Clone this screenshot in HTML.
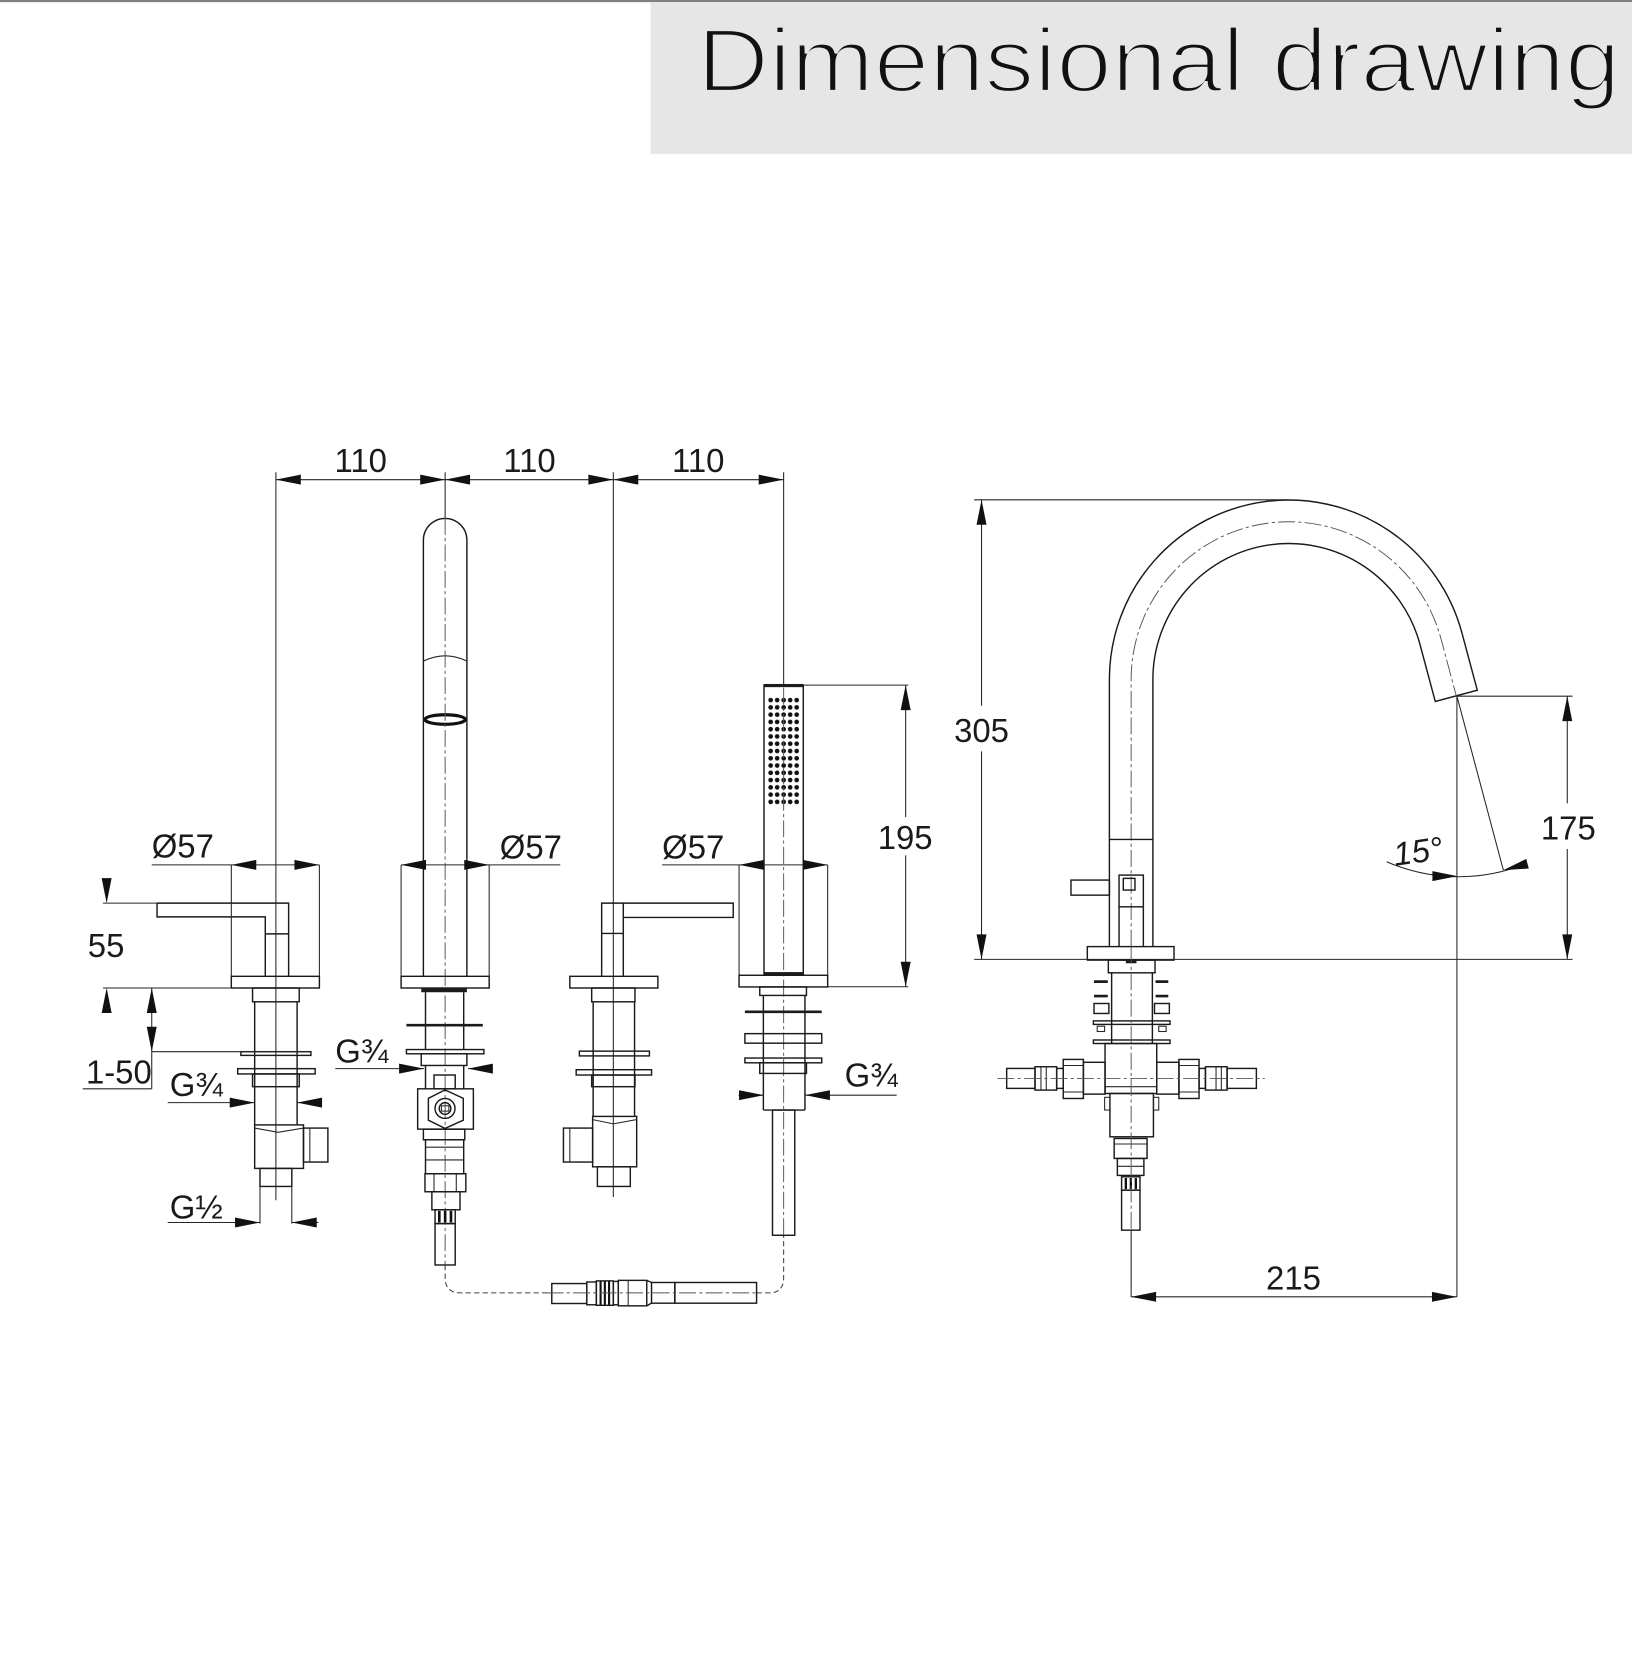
<!DOCTYPE html>
<html><head><meta charset="utf-8"><style>
html,body{margin:0;padding:0;background:#fff;}
svg{display:block;}
.o{fill:none;stroke:#1a1a1a;stroke-width:1.35;}
.t{fill:none;stroke:#262626;stroke-width:1;}
.c{fill:none;stroke:#555;stroke-width:0.9;stroke-dasharray:16 3 3 3;}
.h{fill:none;stroke:#444;stroke-width:1;stroke-dasharray:5 3;}
.f{fill:#1c1c1c;stroke:none;}
text{font-family:"Liberation Sans",Arial,sans-serif;fill:#1a1a1a;}
.l{font-size:31px;}
</style></head><body>
<svg width="1632" height="1664" viewBox="0 0 1538 1568" preserveAspectRatio="none" xmlns="http://www.w3.org/2000/svg">
<defs>
<path id="a" d="M0,0 L-23.5,-4.7 L-23.5,4.7Z" fill="#111"/>
<pattern id="dots" x="723.2" y="656.3" width="6.13" height="6.85" patternUnits="userSpaceOnUse"><circle cx="3.06" cy="3.42" r="2.2" fill="#111"/></pattern>
</defs>
<rect x="0" y="0" width="1538" height="1568" fill="#fff"/>
<!-- header -->
<rect x="0" y="0" width="1538" height="2" fill="#808080"/>
<rect x="613" y="2" width="925" height="143" fill="#e6e6e6"/>
<text x="657" y="86" font-size="85" textLength="870" lengthAdjust="spacingAndGlyphs" style="fill:#111;stroke:#e6e6e6;stroke-width:3">Dimensional drawing</text>

<!-- top 110 dims -->
<path class="t" d="M260,452 H738 M260,445 V1131 M419.5,445 V488 M578,445 V1128 M738.5,445 V645.6"/>
<use href="#a" transform="translate(260,452) rotate(180)"/>
<use href="#a" transform="translate(419.5,452)"/>
<use href="#a" transform="translate(419.5,452) rotate(180)"/>
<use href="#a" transform="translate(578,452)"/>
<use href="#a" transform="translate(578,452) rotate(180)"/>
<use href="#a" transform="translate(738.5,452)"/>
<text class="l" x="340" y="445" text-anchor="middle">110</text>
<text class="l" x="499" y="445" text-anchor="middle">110</text>
<text class="l" x="658" y="445" text-anchor="middle">110</text>

<!-- LEFT VALVE -->
<path class="o" d="M148,851 H272 V920 M148,851 V864 H250 V920 M250,880 H272"/>
<path class="t" d="M218,815 V920 M301,815 V920 M143,815 H301"/>
<use href="#a" transform="translate(218,815) rotate(180)"/>
<use href="#a" transform="translate(301,815)"/>
<text class="l" x="143" y="808">Ø57</text>
<rect class="o" x="218" y="920" width="83" height="11"/>
<rect class="o" x="238" y="931" width="44" height="13"/>
<path class="o" d="M240,944 V1060 M280,944 V1060"/>
<rect class="o" x="227" y="991" width="66" height="3.5"/>
<rect class="o" x="224" y="1007" width="73" height="5"/>
<rect class="o" x="238" y="1012" width="44" height="12"/>
<rect class="o" x="240" y="1060" width="46" height="41"/>
<path class="t" d="M240,1063 L262,1067 L286,1063"/>
<rect class="o" x="286" y="1063" width="23" height="32"/>
<path class="t" d="M292,1063 V1095"/>
<rect class="o" x="245" y="1101" width="30" height="17"/>
<path class="t" d="M245,1118 V1153 M275,1118 V1153"/>
<!-- 55 -->
<path class="t" d="M97,851 H148 M97,931 H218"/>
<use href="#a" transform="translate(100.5,851) rotate(90)"/>
<use href="#a" transform="translate(100.5,931) rotate(-90)"/>
<text class="l" x="100" y="902" text-anchor="middle">55</text>
<!-- 1-50 -->
<path class="t" d="M143,931 V1026 M143,991 H293 M78,1026 H143"/>
<use href="#a" transform="translate(143,931) rotate(-90)"/>
<use href="#a" transform="translate(143,991) rotate(90)"/>
<text class="l" x="81" y="1021">1-50</text>
<!-- G3/4 left -->
<path class="t" d="M158,1039 H240 M280,1039 H303"/>
<use href="#a" transform="translate(240,1039)"/>
<use href="#a" transform="translate(280,1039) rotate(180)"/>
<text class="l" x="160" y="1033">G¾</text>
<!-- G1/2 -->
<path class="t" d="M158,1152 H245 M275,1152 H300"/>
<use href="#a" transform="translate(245,1152)"/>
<use href="#a" transform="translate(275,1152) rotate(180)"/>
<text class="l" x="160" y="1148">G½</text>

<!-- SPOUT -->
<path class="o" d="M399,920 V509 A20.5,20.5 0 0 1 440,509 V920"/>
<path class="t" d="M399,623 Q419.5,613 440,623"/>
<ellipse cx="419.5" cy="678" rx="19" ry="4.5" fill="none" stroke="#111" stroke-width="3"/>
<path class="c" d="M419.5,488 V1192"/>
<path class="t" d="M378,815 V920 M461,815 V920 M378,815 H528"/>
<use href="#a" transform="translate(378,815) rotate(180)"/>
<use href="#a" transform="translate(461,815)"/>
<text class="l" x="471" y="809">Ø57</text>
<rect class="o" x="378" y="920" width="83" height="11"/>
<rect class="f" x="397" y="931" width="43" height="4"/>
<path class="o" d="M401,935 V989 M437,935 V989"/>
<path d="M383,966 H455" stroke="#1c1c1c" stroke-width="2.5"/>
<rect class="o" x="383" y="989" width="73" height="4"/>
<rect class="o" x="397" y="993" width="43" height="11"/>
<path class="t" d="M316,1007 H399.6 M441,1007 H463"/>
<use href="#a" transform="translate(399.6,1007)"/>
<use href="#a" transform="translate(441,1007) rotate(180)"/>
<text class="l" x="316" y="1001">G¾</text>
<path class="o" d="M401,1004 V1026 M437,1004 V1026"/>
<rect class="o" x="409" y="1013" width="20" height="13"/>
<rect class="o" x="393.6" y="1026" width="52.5" height="38"/>
<polygon class="o" points="419.4,1027 403.7,1035 403.7,1055.5 419.4,1063.3 436.6,1055.5 436.6,1035"/>
<circle class="o" cx="419.4" cy="1044.5" r="9.4"/>
<circle class="o" cx="419.4" cy="1044.5" r="5.5"/>
<rect class="t" x="416" y="1042" width="7" height="5"/>
<rect class="o" x="399" y="1064" width="39" height="10"/>
<rect class="o" x="401" y="1074" width="36" height="32"/>
<path class="t" d="M401,1081 H437 M401,1093 H437"/>
<rect class="o" x="400.5" y="1106" width="38.5" height="17"/>
<path class="t" d="M409,1106 V1123 M430,1106 V1123"/>
<rect class="o" x="407" y="1123" width="26.5" height="17"/>
<rect class="o" x="410" y="1140" width="19" height="13"/>
<path d="M414,1141 V1152 M419.5,1141 V1152 M425,1141 V1152" stroke="#111" stroke-width="2.5"/>
<rect class="o" x="410" y="1153" width="19" height="39"/>
<!-- hose -->
<path class="h" d="M419.5,1192 V1204 Q419.5,1218.3 434,1218.3 H520 M713,1218.3 H725 Q738.5,1218.3 738.5,1204 V1164"/>
<rect class="o" x="520" y="1209.5" width="33" height="18.8"/>
<rect class="o" x="553" y="1208" width="9" height="21.5"/>
<rect class="o" x="562" y="1207" width="16" height="23"/>
<path d="M566,1207.5 V1229.5 M570,1207.5 V1229.5 M574,1207.5 V1229.5" stroke="#111" stroke-width="2"/>
<rect class="o" x="578" y="1207.5" width="4.7" height="22"/>
<rect class="o" x="582.7" y="1206.5" width="26.8" height="24"/>
<path class="t" d="M592,1206.5 V1230.5"/>
<path class="o" d="M609.5,1206.5 L614,1208.5 M609.5,1230.5 L614,1228"/>
<rect class="o" x="614" y="1208.5" width="22" height="19.5"/>
<rect class="o" x="636" y="1208.5" width="77" height="19.5"/>
<path class="c" d="M515,1218.3 H713"/>

<!-- CENTER LEVER VALVE -->
<path class="o" d="M567,920 V851 H691 V864.5 H587.4 V920 M567,879.6 H587.4 M587.4,851 V864.5"/>
<rect class="o" x="537" y="920" width="83" height="11"/>
<rect class="o" x="557.6" y="931" width="40.8" height="13"/>
<path class="o" d="M559,944 V1052 M598,944 V1052"/>
<rect class="o" x="546" y="990.5" width="66" height="4.5"/>
<rect class="o" x="543" y="1008" width="71" height="5"/>
<rect class="o" x="557.6" y="1013" width="40.8" height="11"/>
<rect class="o" x="558.5" y="1052" width="41.5" height="47.5"/>
<path class="t" d="M558.5,1055 L578,1059 L600,1055"/>
<rect class="o" x="531" y="1063" width="27.5" height="32"/>
<path class="t" d="M537,1063 V1095"/>
<rect class="o" x="563" y="1099.5" width="31" height="18.5"/>

<!-- HAND SHOWER -->
<rect class="o" x="720" y="645.6" width="37" height="273.3"/>
<rect class="f" x="720" y="644.5" width="37" height="3"/>
<rect x="723.2" y="656.3" width="30.65" height="102.75" fill="url(#dots)"/>
<path class="c" d="M738.5,648 V1164"/>
<path class="t" d="M696.5,815 V919 M780,815 V919 M624,815 H780"/>
<use href="#a" transform="translate(696.5,815) rotate(180)"/>
<use href="#a" transform="translate(780,815)"/>
<text class="l" x="624" y="809">Ø57</text>
<rect class="f" x="720" y="916" width="37" height="3"/>
<rect class="o" x="696.5" y="919" width="83.5" height="11"/>
<rect class="o" x="716" y="930" width="44" height="8"/>
<path class="o" d="M719.4,938 V1046 M758.6,938 V1046 M719.4,1046 H758.6"/>
<path d="M702,953.4 H774.4" stroke="#1c1c1c" stroke-width="2.5"/>
<rect class="o" x="702" y="974" width="72.4" height="9"/>
<rect class="o" x="702" y="997" width="72.4" height="4.5"/>
<rect class="o" x="716" y="1001.5" width="44" height="10"/>
<rect class="o" x="728" y="1046" width="21" height="118"/>
<path class="t" d="M696,1032 H720 M758.6,1032 H845"/>
<use href="#a" transform="translate(720,1032)"/>
<use href="#a" transform="translate(758.6,1032) rotate(180)"/>
<text class="l" x="796" y="1024">G¾</text>
<!-- 195 -->
<path class="t" d="M757,645.6 H856 M780,929.8 H856 M853.5,645.6 V770 M853.5,806 V929.8"/>
<use href="#a" transform="translate(853.5,645.6) rotate(-90)"/>
<use href="#a" transform="translate(853.5,929.8) rotate(90)"/>
<text class="l" x="853" y="800" text-anchor="middle">195</text>

<!-- GOOSENECK -->
<path class="o" d="M1045.5,892 V640 A169,169 0 0 1 1377.7,596.3 L1392.2,650.4 L1352.6,661 L1338.1,606.9 A128,128 0 0 0 1086.5,640 V892"/>
<path class="c" d="M1066,892 V640 A148.5,148.5 0 0 1 1357.9,601.6 L1372.4,655.7"/>
<path class="o" d="M1045.5,791 H1086.5"/>
<rect class="o" x="1054.6" y="824.6" width="22.9" height="29.9" fill="#fff"/>
<rect class="o" x="1058.6" y="827.7" width="11" height="11"/>
<path class="o" d="M1054.6,854.5 V892 M1077.5,854.5 V892"/>
<rect class="o" x="1009.3" y="829.3" width="36.2" height="14.2"/>
<rect class="o" x="1024.7" y="892" width="81.7" height="12.7"/>
<!-- 305 -->
<path class="t" d="M918,471 H1214 M918,904 H1482 M925,471 V665 M925,708 V904"/>
<use href="#a" transform="translate(925,471) rotate(-90)"/>
<use href="#a" transform="translate(925,904) rotate(90)"/>
<text class="l" x="925" y="699" text-anchor="middle">305</text>
<!-- 175 / 15 deg -->
<path class="t" d="M1373,656 H1482 M1477,656 V757 M1477,800 V904 M1373,656 V1222 M1373,656 L1416.8,820"/>
<use href="#a" transform="translate(1477,656) rotate(-90)"/>
<use href="#a" transform="translate(1477,904) rotate(90)"/>
<text class="l" x="1478" y="791" text-anchor="middle">175</text>
<path class="t" d="M1306.8,812 A169.6,169.6 0 0 0 1438.8,813.6"/>
<use href="#a" transform="translate(1373.4,825.6)"/>
<use href="#a" transform="translate(1416.8,819.9) rotate(165.2)"/>
<text class="l" x="1313" y="813" font-style="italic" transform="rotate(-8 1335 803)">15°</text>
<!-- lower assembly -->
<rect class="o" x="1044.5" y="904.7" width="44" height="12"/>
<rect class="f" x="1061" y="904.7" width="10" height="3"/>
<path class="o" d="M1047.6,916.6 V983 M1086,916.6 V983"/>
<path d="M1031,925 H1044 M1089,925 H1101 M1031,938.6 H1044 M1089,938.6 H1101" stroke="#1c1c1c" stroke-width="2.5"/>
<rect class="o" x="1031" y="945.6" width="14" height="9.4"/>
<rect class="o" x="1088" y="945.6" width="14" height="9.4"/>
<rect class="o" x="1030.4" y="962" width="72.2" height="3.3"/>
<rect class="t" x="1034" y="967" width="7" height="5"/>
<rect class="t" x="1092" y="967" width="7" height="5"/>
<rect class="o" x="1030.4" y="980" width="72.2" height="3.3"/>
<rect class="o" x="1041.4" y="983.3" width="48.7" height="47.1"/>
<path class="t" d="M1041.4,1024 H1090.1"/>
<rect class="o" x="1021" y="1001" width="20.4" height="30"/>
<rect class="o" x="1090.1" y="1001" width="21" height="30"/>
<rect class="o" x="1002" y="998.3" width="19" height="36.8"/>
<path class="t" d="M1002,1004 H1021 M1002,1029 H1021 M1111,1004 H1130 M1111,1029 H1130"/>
<rect class="o" x="1111" y="998.3" width="19" height="36.8"/>
<rect class="o" x="995.8" y="1006.8" width="6.2" height="18.8"/>
<rect class="o" x="1130" y="1006.8" width="6" height="18.8"/>
<rect class="o" x="975.4" y="1005.2" width="20.4" height="22"/>
<path class="t" d="M981,1005.2 V1027.2 M986,1005.2 V1027.2 M1146,1005.2 V1027.2 M1151,1005.2 V1027.2"/>
<rect class="o" x="1136" y="1005.2" width="20.4" height="22"/>
<rect class="o" x="948.7" y="1006.8" width="26.7" height="18.8"/>
<rect class="o" x="1156.4" y="1006.8" width="27.6" height="18.8"/>
<path class="c" d="M940,1016.2 H1192"/>
<rect class="o" x="1046" y="1030.4" width="41" height="40.8"/>
<rect class="t" x="1041" y="1034" width="5" height="12"/>
<rect class="t" x="1087" y="1034" width="5" height="12"/>
<rect class="o" x="1050" y="1072.8" width="31" height="18.8"/>
<path class="t" d="M1050,1078 H1081"/>
<rect class="o" x="1053" y="1091.6" width="25" height="16"/>
<path class="t" d="M1053,1099 H1078"/>
<rect class="o" x="1057" y="1108.9" width="17.3" height="12.6"/>
<path d="M1061,1110 V1120.5 M1065.7,1110 V1120.5 M1070.4,1110 V1120.5" stroke="#111" stroke-width="2.2"/>
<rect class="o" x="1057" y="1121.5" width="17.3" height="37.7"/>
<path class="c" d="M1066,892 V1159"/>
<!-- 215 -->
<path class="t" d="M1066,1159 V1222 M1066,1222 H1373"/>
<use href="#a" transform="translate(1066,1222) rotate(180)"/>
<use href="#a" transform="translate(1373,1222)"/>
<text class="l" x="1219" y="1215" text-anchor="middle">215</text>
</svg>
</body></html>
